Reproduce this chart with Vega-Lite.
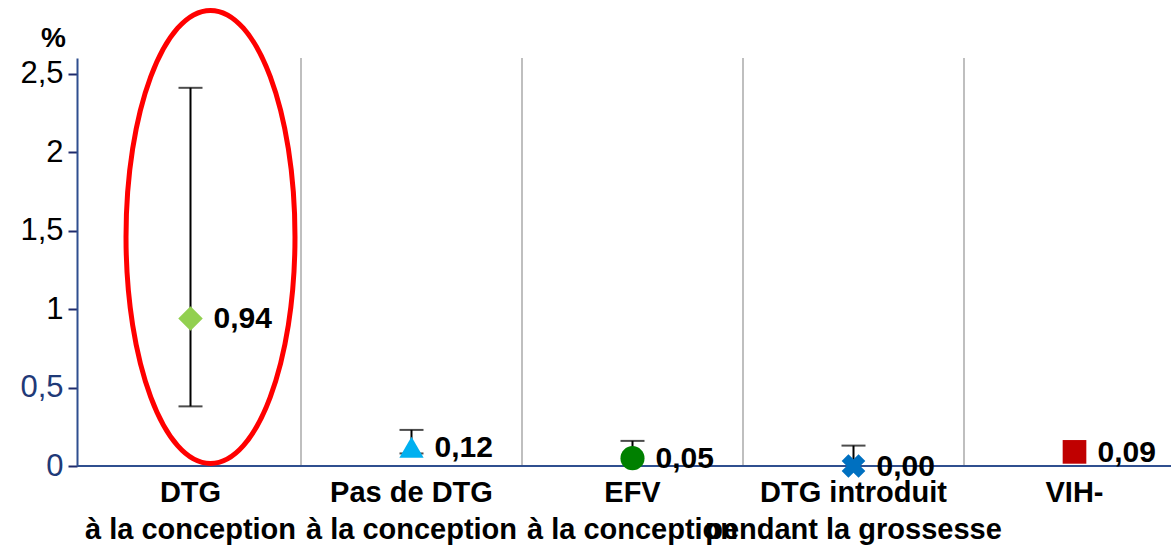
{
  "$schema": "https://vega.github.io/schema/vega-lite/v6.json",
  "width": 1094,
  "height": 408,
  "autosize": {"type": "none"},
  "padding": {"left": 77, "top": 58, "right": 0, "bottom": 82},
  "background": "white",
  "config": {
    "font": "Liberation Sans",
    "view": {"stroke": null},
    "locale": {"number": {"decimal": ",", "thousands": " ", "grouping": [3], "currency": ["", " €"]}}
  },
  "data": {
    "values": [
      {"groupe": "DTG\nà la conception", "valeur": 0.94, "bas": 0.38, "haut": 2.41},
      {"groupe": "Pas de DTG\nà la conception", "valeur": 0.12, "bas": 0.08, "haut": 0.23},
      {"groupe": "EFV\nà la conception", "valeur": 0.05, "bas": 0.0, "haut": 0.16},
      {"groupe": "DTG introduit\npendant la grossesse", "valeur": 0.0, "bas": 0.0, "haut": 0.13},
      {"groupe": "VIH-", "valeur": 0.09, "bas": null, "haut": null}
    ]
  },
  "encoding": {
    "x": {
      "field": "groupe",
      "type": "nominal",
      "sort": null,
      "scale": {
        "domain": ["DTG\nà la conception", "Pas de DTG\nà la conception", "EFV\nà la conception", "DTG introduit\npendant la grossesse", "VIH-"],
        "range": [3, 1108],
        "paddingInner": 0,
        "paddingOuter": 0
      },
      "axis": {
        "orient": "bottom",
        "title": null,
        "domain": false,
        "ticks": false,
        "labelAngle": 0,
        "labelFontSize": 29,
        "labelFontWeight": "bold",
        "labelColor": "black",
        "labelLineHeight": 37,
        "labelPadding": 12,
        "labelLimit": 0,
        "labelExpr": "split(datum.label, '\\n')"
      }
    }
  },
  "layer": [
    {
      "transform": [{"filter": "datum.groupe != 'DTG\\nà la conception'"}],
      "mark": {"type": "rule", "color": "#BFBFBF", "strokeWidth": 2},
      "encoding": {
        "x": {"field": "groupe", "type": "nominal", "sort": null, "bandPosition": 0}
      }
    },
    {
      "transform": [{"filter": "datum.haut != null"}],
      "mark": {"type": "rule", "color": "black", "strokeWidth": 2},
      "encoding": {
        "y": {
          "field": "bas",
          "type": "quantitative",
          "scale": {"domain": [0, 2.6], "nice": false, "zero": true},
          "axis": {
            "title": "%",
            "titleAngle": 0,
            "titleFontSize": 28,
            "titleFontWeight": "bold",
            "titleColor": "black",
            "titleAlign": "center",
            "titleBaseline": "bottom",
            "titleX": -24,
            "titleY": -6,
            "values": [0, 0.5, 1, 1.5, 2, 2.5],
            "format": ".1~f",
            "grid": false,
            "domainColor": "#2F4F8F",
            "domainWidth": 2,
            "tickColor": "#1F2A6B",
            "tickSize": 9,
            "tickWidth": 2,
            "labelPadding": 5,
            "labelFontSize": 31,
            "labelColor": {"condition": {"test": "datum.value < 0.75", "value": "#1F3A78"}, "value": "black"}
          }
        },
        "y2": {"field": "haut"}
      }
    },
    {
      "transform": [{"filter": "datum.haut != null"}],
      "mark": {"type": "tick", "orient": "horizontal", "color": "black", "size": 24, "thickness": 2},
      "encoding": {"y": {"field": "haut", "type": "quantitative"}}
    },
    {
      "transform": [{"filter": "datum.haut != null"}],
      "mark": {"type": "tick", "orient": "horizontal", "color": "black", "size": 24, "thickness": 2},
      "encoding": {"y": {"field": "bas", "type": "quantitative"}}
    },
    {
      "mark": {"type": "rule", "color": "#2F4F8F", "strokeWidth": 2},
      "encoding": {"x": null, "y": {"datum": 0, "type": "quantitative"}}
    },
    {
      "mark": {"type": "point", "filled": true, "opacity": 1},
      "encoding": {
        "y": {"field": "valeur", "type": "quantitative"},
        "color": {
          "field": "groupe",
          "type": "nominal",
          "sort": null,
          "legend": null,
          "scale": {"range": ["#92D050", "#00B0F0", "#008000", "#0070C0", "#C00000"]}
        },
        "shape": {
          "field": "groupe",
          "type": "nominal",
          "sort": null,
          "legend": null,
          "scale": {"range": ["diamond", "triangle-up", "circle", "cross", "square"]}
        },
        "size": {
          "field": "groupe",
          "type": "nominal",
          "sort": null,
          "legend": null,
          "scale": {"range": [600, 560, 560, 620, 400]}
        },
        "angle": {"condition": {"test": "datum.groupe == 'DTG introduit\\npendant la grossesse'", "value": 45}, "value": 0}
      }
    },
    {
      "mark": {"type": "text", "align": "left", "baseline": "middle", "dx": 23, "dy": 1, "fontSize": 30, "fontWeight": "bold", "color": "black"},
      "encoding": {
        "y": {"field": "valeur", "type": "quantitative"},
        "text": {"field": "valeur", "type": "quantitative", "format": ".2f"}
      }
    },
    {
      "transform": [{"filter": "datum.groupe == 'DTG\\nà la conception'"}],
      "mark": {
        "type": "point",
        "shape": "M 0,-1 C 0.206,-1 0.373,-0.5523 0.373,0 C 0.373,0.5523 0.206,1 0,1 C -0.206,1 -0.373,0.5523 -0.373,0 C -0.373,-0.5523 -0.206,-1 0,-1 Z",
        "filled": false,
        "color": "#FF0000",
        "stroke": "#FF0000",
        "strokeWidth": 5,
        "opacity": 1,
        "size": 205209,
        "xOffset": 20
      },
      "encoding": {"y": {"datum": 1.46, "type": "quantitative"}}
    }
  ]
}
